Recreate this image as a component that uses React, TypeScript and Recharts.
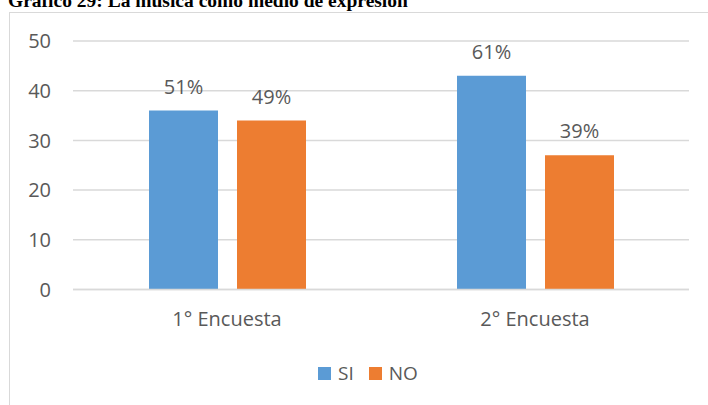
import { BarChart, Bar, XAxis, YAxis, CartesianGrid, Legend, LabelList } from 'recharts';

const categories = ['1° Encuesta', '2° Encuesta'];
const seriesNames = ['SI', 'NO'];
const siValues = [36, 43];
const noValues = [34, 27];
const siLabels = ['51%', '61%'];
const noLabels = ['49%', '39%'];
const yTicks = [0, 10, 20, 30, 40, 50];

const data = categories.map((name, i) => ({
  name,
  si: siValues[i],
  no: noValues[i],
  siLabel: siLabels[i],
  noLabel: noLabels[i],
}));

const FONT = '"Open Sans", sans-serif';
const TEXT = '#595959';
const GRID = '#d9d9d9';

const LegendContent = ({ payload }: any) => {
  const items = [...(payload || [])].sort(
    (a: any, b: any) => seriesNames.indexOf(a.value) - seriesNames.indexOf(b.value)
  );
  return (
    <div style={{ display: 'flex', justifyContent: 'center', gap: 15, height: 20, fontFamily: FONT, fontSize: 19, color: TEXT }}>
      {items.map((entry: any) => (
        <div key={entry.value} style={{ display: 'flex', alignItems: 'center' }}>
          <span style={{ display: 'inline-block', width: 13, height: 13, background: entry.color, marginRight: 7 }} />
          <span style={{ lineHeight: '20px' }}>{entry.value}</span>
        </div>
      ))}
    </div>
  );
};

export default function App() {
  return (
    <div style={{ position: 'relative', width: 708, height: 405, overflow: 'hidden', background: '#fff' }}>
      <style>{`body{margin:0}`}</style>
      <div
        style={{
          position: 'absolute',
          left: 8,
          top: -10,
          fontFamily: '"Liberation Serif", serif',
          fontWeight: 'bold',
          fontSize: 19.5,
          whiteSpace: 'nowrap',
          color: '#000',
        }}
      >
        Gráfico 29: La música como medio de expresión
      </div>
      <div
        style={{
          position: 'absolute',
          left: 9,
          top: 12,
          width: 800,
          height: 500,
          borderLeft: `1.5px solid ${GRID}`,
          borderTop: `1.5px solid ${GRID}`,
        }}
      />
      <div style={{ position: 'absolute', left: 0, top: 0 }}>
        <BarChart
          width={708}
          height={405}
          data={data}
          margin={{ top: 41, right: 19, left: 0, bottom: 65.5 }}
          barSize={69}
          barGap={19}
        >
          <CartesianGrid vertical={false} stroke={GRID} strokeWidth={1.5} />
          <XAxis
            dataKey="name"
            height={30}
            tickLine={false}
            tickSize={0}
            tickMargin={22}
            axisLine={{ stroke: GRID, strokeWidth: 1.5 }}
            tick={{ fontFamily: FONT, fontSize: 20, fill: TEXT }}
          />
          <YAxis
            width={73}
            domain={[0, 50]}
            ticks={yTicks}
            tickLine={false}
            tickSize={0}
            tickMargin={22}
            axisLine={false}
            tick={{ fontFamily: FONT, fontSize: 20, fill: TEXT }}
          />
          <Legend
            verticalAlign="bottom"
            content={<LegendContent />}
            wrapperStyle={{ left: 0, top: 363, width: 736 }}
          />
          <Bar dataKey="si" name="SI" fill="#5B9BD5" isAnimationActive={false}>
            <LabelList
              dataKey="siLabel"
              position="top"
              offset={17}
              style={{ fontFamily: FONT, fontSize: 20, fill: TEXT }}
            />
          </Bar>
          <Bar dataKey="no" name="NO" fill="#ED7D31" isAnimationActive={false}>
            <LabelList
              dataKey="noLabel"
              position="top"
              offset={17}
              style={{ fontFamily: FONT, fontSize: 20, fill: TEXT }}
            />
          </Bar>
        </BarChart>
      </div>
    </div>
  );
}
